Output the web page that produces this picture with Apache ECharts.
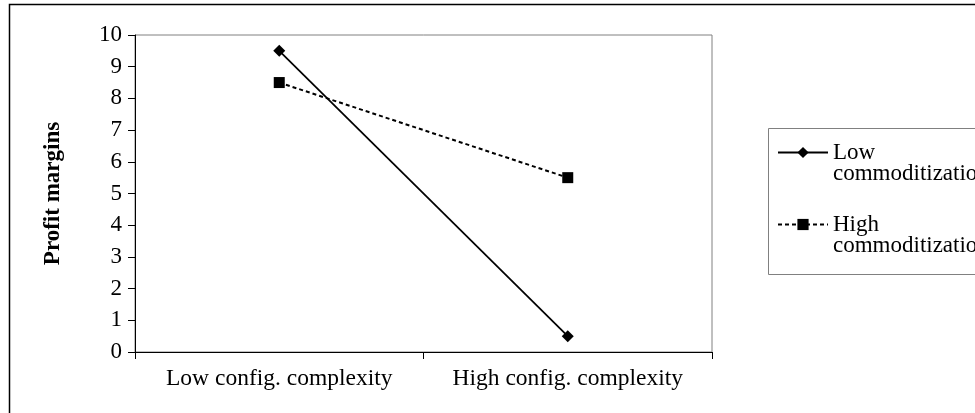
<!DOCTYPE html>
<html>
<head>
<meta charset="utf-8">
<script src="https://cdn.jsdelivr.net/npm/echarts@6/dist/echarts.min.js"></script>
<style>
html,body{margin:0;padding:0;background:#fff;}
#c{width:975px;height:413px;}
</style>
</head>
<body>
<div id="c"></div>
<script>
var categories = ['Low config. complexity', 'High config. complexity'];
var lowCommod = [9.5, 0.5];
var highCommod = [8.5, 5.5];
var seriesNames = ['Low commoditization', 'High commoditization'];
var legendLabels = { 'Low commoditization': ' \nLow\ncommoditization', 'High commoditization': ' \nHigh\ncommoditization' };
var yTicks = [0, 1, 2, 3, 4, 5, 6, 7, 8, 9, 10];

var font = 'Liberation Serif';
var chart = echarts.init(document.getElementById('c'));
chart.setOption({
  backgroundColor: '#fff',
  animation: false,
  graphic: [{
    type: 'rect', left: 7, top: 2, z: 100,
    shape: { width: 1200, height: 800 },
    style: { fill: null, stroke: '#000', lineWidth: 1.5 }
  }, {
    type: 'rect', left: 766, top: 126, z: 100,
    shape: { width: 300, height: 146 },
    style: { fill: null, stroke: '#808080', lineWidth: 1 }
  }],
  grid: {
    left: 135, top: 35, right: 263, bottom: 61,
    show: true, borderColor: '#808080', borderWidth: 1, backgroundColor: 'transparent'
  },
  legend: {
    orient: 'vertical',
    left: 777, top: 120,
    padding: 0,
    borderWidth: 0,
    itemWidth: 50, itemHeight: 14, itemGap: 7,
    formatter: function (n) { return legendLabels[n]; },
    textStyle: { fontFamily: font, fontSize: 23, color: '#000', lineHeight: 21 },
    data: seriesNames
  },
  xAxis: {
    type: 'category',
    data: categories,
    boundaryGap: true,
    axisLine: { lineStyle: { color: '#000', width: 1 } },
    axisTick: { show: true, length: 7, lineStyle: { color: '#000' } },
    axisLabel: { fontFamily: font, fontSize: 23.5, color: '#000', margin: 15, interval: 0, hideOverlap: false },
    splitLine: { show: false }
  },
  yAxis: {
    type: 'value',
    min: yTicks[0], max: yTicks[yTicks.length - 1], interval: 1,
    name: 'Profit margins',
    nameLocation: 'middle',
    nameGap: 70,
    nameTextStyle: { fontFamily: font, fontSize: 23, fontWeight: 'bold', color: '#000' },
    axisLine: { show: true, lineStyle: { color: '#000', width: 1 } },
    axisTick: { show: true, length: 7, lineStyle: { color: '#000' } },
    axisLabel: { fontFamily: font, fontSize: 23, color: '#000', margin: 13 },
    splitLine: { show: false }
  },
  series: [{
    name: seriesNames[0],
    type: 'line',
    data: lowCommod,
    symbol: 'diamond',
    symbolSize: 12,
    lineStyle: { color: '#000', width: 1.75, type: 'solid' },
    itemStyle: { color: '#000' }
  }, {
    name: seriesNames[1],
    type: 'line',
    data: highCommod,
    symbol: 'rect',
    symbolSize: 11,
    lineStyle: { color: '#000', width: 2, type: [4, 3] },
    itemStyle: { color: '#000' }
  }]
});
</script>
</body>
</html>
